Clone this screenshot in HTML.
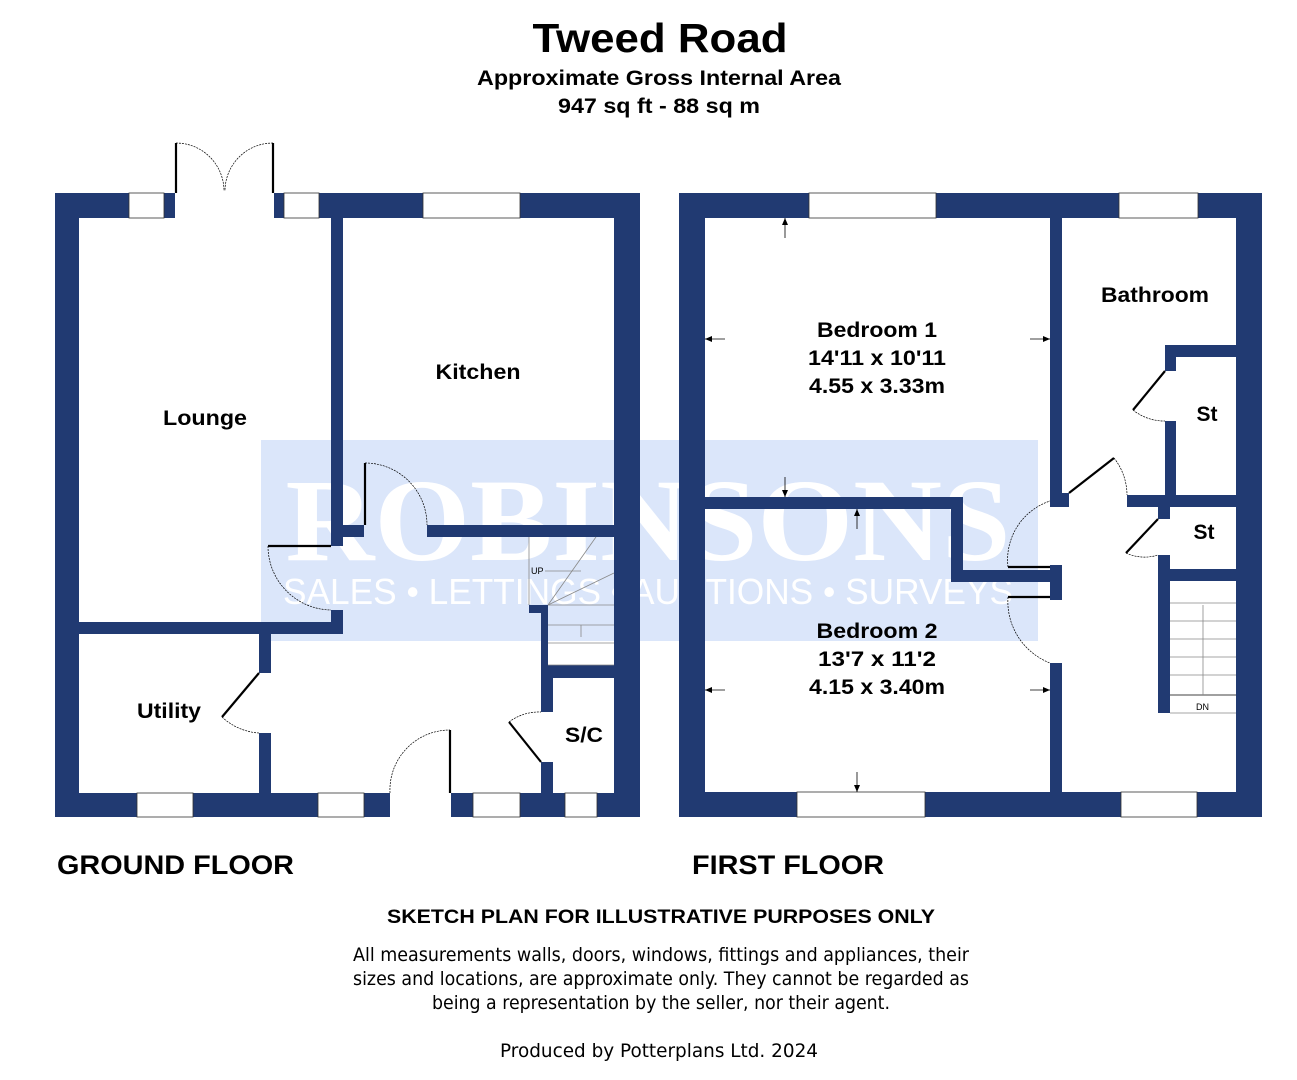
<!DOCTYPE html>
<html><head><meta charset="utf-8"><style>
html,body{margin:0;padding:0;background:#fff;}
svg{display:block;}
text{font-family:"Liberation Sans",Arial,sans-serif;}
</style></head><body>
<svg width="1297" height="1080" viewBox="0 0 1297 1080" xmlns="http://www.w3.org/2000/svg">
<rect width="1297" height="1080" fill="#fff"/>
<!-- titles -->
<text x="660" y="52" font-size="41" font-weight="bold" text-anchor="middle" textLength="255" lengthAdjust="spacingAndGlyphs">Tweed Road</text>
<text x="659" y="85" font-size="21" font-weight="bold" text-anchor="middle" textLength="364" lengthAdjust="spacingAndGlyphs">Approximate Gross Internal Area</text>
<text x="659" y="113" font-size="21" font-weight="bold" text-anchor="middle" textLength="202" lengthAdjust="spacingAndGlyphs">947 sq ft - 88 sq m</text>

<!-- watermark band -->
<rect x="261" y="440" width="777" height="201" fill="#dbe6fa"/>
<text x="648" y="560" font-size="118" font-weight="bold" fill="#fff" text-anchor="middle" textLength="725" lengthAdjust="spacingAndGlyphs" style="font-family:'Liberation Serif',serif">ROBINSONS</text>
<text x="648" y="604" font-size="36" fill="#fff" text-anchor="middle" textLength="730" lengthAdjust="spacingAndGlyphs">SALES • LETTINGS • AUCTIONS • SURVEYS</text>

<g fill="#213a72">
<rect x="55" y="193" width="24" height="624"/>
<rect x="614" y="193" width="26" height="624"/>
<rect x="55" y="193" width="74" height="25"/>
<rect x="164" y="193" width="11" height="25"/>
<rect x="274" y="193" width="10" height="25"/>
<rect x="319" y="193" width="104" height="25"/>
<rect x="520" y="193" width="120" height="25"/>
<rect x="55" y="793" width="82" height="24"/>
<rect x="193" y="793" width="125" height="24"/>
<rect x="364" y="793" width="26" height="24"/>
<rect x="451" y="793" width="22" height="24"/>
<rect x="520" y="793" width="45" height="24"/>
<rect x="597" y="793" width="43" height="24"/>
<rect x="331" y="218" width="12" height="328"/>
<rect x="331" y="610" width="12" height="24"/>
<rect x="343" y="525" width="21" height="12"/>
<rect x="427" y="525" width="187" height="12"/>
<rect x="79" y="622" width="264" height="12"/>
<rect x="259" y="634" width="12" height="39"/>
<rect x="259" y="733" width="12" height="60"/>
<rect x="529" y="605" width="19" height="8"/>
<rect x="541" y="605" width="7" height="60"/>
<rect x="541" y="665" width="73" height="13"/>
<rect x="541" y="665" width="12" height="47"/>
<rect x="541" y="762" width="12" height="31"/>

<rect x="679" y="193" width="26" height="624"/>
<rect x="1236" y="193" width="26" height="624"/>
<rect x="679" y="193" width="130" height="25"/>
<rect x="936" y="193" width="183" height="25"/>
<rect x="1198" y="193" width="64" height="25"/>
<rect x="679" y="792" width="118" height="25"/>
<rect x="925" y="792" width="196" height="25"/>
<rect x="1197" y="792" width="65" height="25"/>
<rect x="1050" y="218" width="12" height="283"/>
<rect x="1050" y="493" width="19" height="14"/>
<rect x="1050" y="565" width="12" height="35"/>
<rect x="1050" y="663" width="12" height="129"/>
<rect x="705" y="497" width="258" height="12"/>
<rect x="951" y="497" width="12" height="85"/>
<rect x="951" y="570" width="99" height="12"/>
<rect x="1127" y="495" width="109" height="12"/>
<rect x="1165" y="345" width="71" height="12"/>
<rect x="1165" y="345" width="11" height="26"/>
<rect x="1165" y="421" width="11" height="86"/>
<rect x="1158" y="495" width="12" height="24"/>
<rect x="1158" y="555" width="12" height="158"/>
<rect x="1158" y="569" width="78" height="12"/>
</g>

<g fill="#fff" stroke="#333" stroke-width="0.8">
<rect x="129" y="193" width="35" height="25"/><rect x="284" y="193" width="35" height="25"/><rect x="423" y="193" width="97" height="25"/>
<rect x="137" y="793" width="56" height="24"/><rect x="318" y="793" width="46" height="24"/><rect x="473" y="793" width="47" height="24"/><rect x="565" y="793" width="32" height="24"/>
<rect x="809" y="193" width="127" height="25"/><rect x="1119" y="193" width="79" height="25"/>
<rect x="797" y="792" width="128" height="25"/><rect x="1121" y="792" width="76" height="25"/>
</g>

<g fill="none" stroke="#000" stroke-width="2.2">
<line x1="176" y1="143" x2="176" y2="193"/><line x1="273" y1="143" x2="273" y2="193"/>
<line x1="365" y1="463" x2="365" y2="525"/>
<line x1="268" y1="546" x2="331" y2="546"/>
<line x1="259" y1="673" x2="222" y2="717"/>
<line x1="450" y1="730" x2="450" y2="793"/>
<line x1="541" y1="762" x2="509" y2="722"/>
<line x1="1069" y1="493" x2="1114" y2="458"/>
<line x1="1008" y1="567" x2="1050" y2="567"/>
<line x1="1008" y1="597" x2="1050" y2="597"/>
<line x1="1165" y1="371" x2="1133" y2="410"/>
<line x1="1158" y1="519" x2="1126" y2="553"/>
</g>
<g fill="none" stroke="#000" stroke-width="0.7" stroke-dasharray="2,1">
<path d="M176 143 A48 48 0 0 1 224 191"/><path d="M273 143 A48 48 0 0 0 225 191"/>
<path d="M365 463 A62 62 0 0 1 427 525"/>
<path d="M268 546 A64 64 0 0 0 331 610"/>
<path d="M222 717 A60 60 0 0 0 259 733"/>
<path d="M390 793 A60 60 0 0 1 450 730"/>
<path d="M509 722 A50 50 0 0 1 541 712"/>
<path d="M1114 458 A60 60 0 0 1 1127 495"/>
<path d="M1008 567 A62 62 0 0 1 1050 501"/>
<path d="M1008 597 A66 66 0 0 0 1050 663"/>
<path d="M1133 410 A50 50 0 0 0 1165 421"/>
<path d="M1126 553 A44 44 0 0 0 1158 555"/>
</g>

<g stroke="#888" stroke-width="0.8" fill="none">
<line x1="529" y1="537" x2="529" y2="605"/>
<line x1="548" y1="605" x2="596" y2="537"/>
<line x1="548" y1="605" x2="614" y2="573"/>
<line x1="548" y1="605" x2="614" y2="605"/>
<line x1="548" y1="625" x2="614" y2="625"/>
<line x1="548" y1="643" x2="614" y2="643"/>
<line x1="548" y1="665" x2="614" y2="665"/>
<line x1="545" y1="571" x2="581" y2="571"/>
<line x1="1170" y1="603" x2="1236" y2="603"/><line x1="1170" y1="621" x2="1236" y2="621"/>
<line x1="1170" y1="639" x2="1236" y2="639"/><line x1="1170" y1="657" x2="1236" y2="657"/>
<line x1="1170" y1="675" x2="1236" y2="675"/>
<line x1="1170" y1="695" x2="1236" y2="695" stroke="#000"/>
<line x1="1170" y1="713" x2="1236" y2="713"/>
<line x1="1203" y1="695" x2="1203" y2="605"/>
<line x1="581" y1="625" x2="581" y2="637"/>
</g>
<text x="531" y="574" font-size="9">UP</text>
<text x="1196" y="710" font-size="9">DN</text>

<g stroke="#000" stroke-width="0.8">
<line x1="785" y1="218" x2="785" y2="238"/><line x1="705" y1="339" x2="725" y2="339"/><line x1="1030" y1="339" x2="1050" y2="339"/>
<line x1="785" y1="477" x2="785" y2="497"/><line x1="857" y1="509" x2="857" y2="529"/>
<line x1="705" y1="690" x2="725" y2="690"/><line x1="1030" y1="690" x2="1050" y2="690"/><line x1="857" y1="772" x2="857" y2="792"/>
</g>
<g fill="#000">
<path d="M785 218 l-3 7 h6z"/><path d="M705 339 l7 -3 v6z"/><path d="M1050 339 l-7 -3 v6z"/>
<path d="M785 497 l-3 -7 h6z"/><path d="M857 509 l-3 7 h6z"/>
<path d="M705 690 l7 -3 v6z"/><path d="M1050 690 l-7 -3 v6z"/><path d="M857 792 l-3 -7 h6z"/>
</g>

<g font-size="21" font-weight="bold" text-anchor="middle">
<text x="205" y="425" textLength="84" lengthAdjust="spacingAndGlyphs">Lounge</text>
<text x="478" y="379" textLength="85" lengthAdjust="spacingAndGlyphs">Kitchen</text>
<text x="169" y="718" textLength="64" lengthAdjust="spacingAndGlyphs">Utility</text>
<text x="584" y="742" textLength="38" lengthAdjust="spacingAndGlyphs">S/C</text>
<text x="877" y="337" textLength="120" lengthAdjust="spacingAndGlyphs">Bedroom 1</text>
<text x="877" y="365" textLength="138" lengthAdjust="spacingAndGlyphs">14'11 x 10'11</text>
<text x="877" y="393" textLength="136" lengthAdjust="spacingAndGlyphs">4.55 x 3.33m</text>
<text x="877" y="638" textLength="121" lengthAdjust="spacingAndGlyphs">Bedroom 2</text>
<text x="877" y="666" textLength="118" lengthAdjust="spacingAndGlyphs">13'7 x 11'2</text>
<text x="877" y="694" textLength="136" lengthAdjust="spacingAndGlyphs">4.15 x 3.40m</text>
<text x="1155" y="302" textLength="108" lengthAdjust="spacingAndGlyphs">Bathroom</text>
<text x="1207" y="421">St</text>
<text x="1204" y="539">St</text>
</g>

<text x="57" y="874" font-size="27" font-weight="bold" textLength="237" lengthAdjust="spacingAndGlyphs">GROUND FLOOR</text>
<text x="692" y="874" font-size="27" font-weight="bold" textLength="192" lengthAdjust="spacingAndGlyphs">FIRST FLOOR</text>
<text x="661" y="923" font-size="19" font-weight="bold" text-anchor="middle" textLength="548" lengthAdjust="spacingAndGlyphs">SKETCH PLAN FOR ILLUSTRATIVE PURPOSES ONLY</text>
<g font-size="19" text-anchor="middle">
<text x="661" y="961" style="font-family:'DejaVu Sans',sans-serif" textLength="616" lengthAdjust="spacingAndGlyphs">All measurements walls, doors, windows, fittings and appliances, their</text>
<text x="661" y="985" style="font-family:'DejaVu Sans',sans-serif" textLength="616" lengthAdjust="spacingAndGlyphs">sizes and locations, are approximate only. They cannot be regarded as</text>
<text x="661" y="1009" style="font-family:'DejaVu Sans',sans-serif" textLength="458" lengthAdjust="spacingAndGlyphs">being a representation by the seller, nor their agent.</text>
<text x="659" y="1057" style="font-family:'DejaVu Sans',sans-serif" textLength="318" lengthAdjust="spacingAndGlyphs">Produced by Potterplans Ltd. 2024</text>
</g>
</svg>
</body></html>
